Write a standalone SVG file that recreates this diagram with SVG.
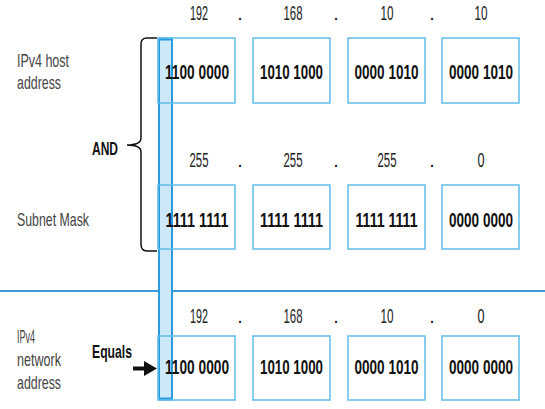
<svg xmlns="http://www.w3.org/2000/svg" width="545" height="409" viewBox="0 0 545 409">
<style>
.box{fill:none;stroke:#62bde9;stroke-width:1.5}
.bin{font-family:"Liberation Sans",Arial,sans-serif;font-weight:bold;font-size:20px;fill:#111;text-anchor:middle}
.num{font-family:"Liberation Sans",Arial,sans-serif;font-size:20px;fill:#222;text-anchor:middle}
.lbl{font-family:"Liberation Sans",Arial,sans-serif;font-size:19px;fill:#444}
.op{font-family:"Liberation Sans",Arial,sans-serif;font-weight:bold;font-size:19px;fill:#111}
</style>
<rect width="545" height="409" fill="#fff"/>
<g id="highlight">
<rect x="159" y="39" width="13" height="360" fill="#cde8f8" stroke="#2a9be0" stroke-width="2"/>
<line x1="158" y1="39" x2="173" y2="39" stroke="#2a9be0" stroke-width="3"/>
<line x1="158" y1="399" x2="173" y2="399" stroke="#2a9be0" stroke-width="3"/>
</g>
<g id="labels">
<text class="lbl" x="17" y="67" textLength="52" lengthAdjust="spacingAndGlyphs">IPv4 host</text>
<text class="lbl" x="17" y="89" textLength="44" lengthAdjust="spacingAndGlyphs">address</text>
<text class="lbl" x="17" y="226" textLength="72" lengthAdjust="spacingAndGlyphs">Subnet Mask</text>
<text class="lbl" x="17" y="343" textLength="18" lengthAdjust="spacingAndGlyphs">IPv4</text>
<text class="lbl" x="17" y="366" textLength="44" lengthAdjust="spacingAndGlyphs">network</text>
<text class="lbl" x="17" y="389" textLength="44" lengthAdjust="spacingAndGlyphs">address</text>
<text class="op" x="92" y="155" textLength="26" lengthAdjust="spacingAndGlyphs">AND</text>
<text class="op" x="92" y="358" textLength="40" lengthAdjust="spacingAndGlyphs">Equals</text>
</g>
<g id="divider">
<line x1="0" y1="291" x2="159" y2="291" stroke="#3d9bd8" stroke-width="2"/>
<line x1="172" y1="291" x2="545" y2="291" stroke="#3d9bd8" stroke-width="2"/>
</g>
<g id="row1">
<text class="num" x="199" y="20" textLength="18" lengthAdjust="spacingAndGlyphs">192</text>
<text class="num" x="240" y="20">.</text>
<text class="num" x="293" y="20" textLength="19" lengthAdjust="spacingAndGlyphs">168</text>
<text class="num" x="336" y="20">.</text>
<text class="num" x="387" y="20" textLength="13" lengthAdjust="spacingAndGlyphs">10</text>
<text class="num" x="432" y="20">.</text>
<text class="num" x="481" y="20" textLength="13" lengthAdjust="spacingAndGlyphs">10</text>
<g id="h1"><rect class="box" x="158" y="38" width="77" height="65"/><text class="bin" x="197" y="79" textLength="64" lengthAdjust="spacingAndGlyphs">1100 0000</text></g>
<g id="h2"><rect class="box" x="253" y="38" width="77" height="65"/><text class="bin" x="291.5" y="79" textLength="63" lengthAdjust="spacingAndGlyphs">1010 1000</text></g>
<g id="h3"><rect class="box" x="348" y="38" width="77" height="65"/><text class="bin" x="386.5" y="79" textLength="64" lengthAdjust="spacingAndGlyphs">0000 1010</text></g>
<g id="h4"><rect class="box" x="442" y="38" width="77" height="65"/><text class="bin" x="481" y="79" textLength="64" lengthAdjust="spacingAndGlyphs">0000 1010</text></g>
</g>
<g id="row2">
<text class="num" x="199" y="167" textLength="19" lengthAdjust="spacingAndGlyphs">255</text>
<text class="num" x="240" y="167">.</text>
<text class="num" x="293" y="167" textLength="19" lengthAdjust="spacingAndGlyphs">255</text>
<text class="num" x="336" y="167">.</text>
<text class="num" x="387" y="167" textLength="19" lengthAdjust="spacingAndGlyphs">255</text>
<text class="num" x="432" y="167">.</text>
<text class="num" x="481" y="167" textLength="7" lengthAdjust="spacingAndGlyphs">0</text>
<g id="m1"><rect class="box" x="158" y="185" width="77" height="64"/><text class="bin" x="197" y="227" textLength="63" lengthAdjust="spacingAndGlyphs">1111 1111</text></g>
<g id="m2"><rect class="box" x="253" y="185" width="77" height="64"/><text class="bin" x="291.5" y="227" textLength="63" lengthAdjust="spacingAndGlyphs">1111 1111</text></g>
<g id="m3"><rect class="box" x="348" y="185" width="77" height="64"/><text class="bin" x="386.5" y="227" textLength="62" lengthAdjust="spacingAndGlyphs">1111 1111</text></g>
<g id="m4"><rect class="box" x="442" y="185" width="77" height="64"/><text class="bin" x="481" y="227" textLength="64" lengthAdjust="spacingAndGlyphs">0000 0000</text></g>
</g>
<g id="row3">
<text class="num" x="199" y="323" textLength="18" lengthAdjust="spacingAndGlyphs">192</text>
<text class="num" x="240" y="323">.</text>
<text class="num" x="293" y="323" textLength="19" lengthAdjust="spacingAndGlyphs">168</text>
<text class="num" x="336" y="323">.</text>
<text class="num" x="387" y="323" textLength="13" lengthAdjust="spacingAndGlyphs">10</text>
<text class="num" x="432" y="323">.</text>
<text class="num" x="481" y="323" textLength="7" lengthAdjust="spacingAndGlyphs">0</text>
<g id="n1"><rect class="box" x="158" y="336" width="77" height="64"/><text class="bin" x="197" y="374" textLength="64" lengthAdjust="spacingAndGlyphs">1100 0000</text></g>
<g id="n2"><rect class="box" x="253" y="336" width="77" height="64"/><text class="bin" x="291.5" y="374" textLength="63" lengthAdjust="spacingAndGlyphs">1010 1000</text></g>
<g id="n3"><rect class="box" x="348" y="336" width="77" height="64"/><text class="bin" x="386.5" y="374" textLength="64" lengthAdjust="spacingAndGlyphs">0000 1010</text></g>
<g id="n4"><rect class="box" x="442" y="336" width="77" height="64"/><text class="bin" x="481" y="374" textLength="64" lengthAdjust="spacingAndGlyphs">0000 0000</text></g>
</g>
<g id="connectors">
<path d="M157,38 H147 Q141,38 141,44 V138 Q141,145 127,145 Q141,145 141,152 V244 Q141,251 147,251 H157" fill="none" stroke="#111" stroke-width="1.5"/>
<line x1="133" y1="368.5" x2="147" y2="368.5" stroke="#111" stroke-width="4"/>
<polygon points="144,361 157,368.5 144,376" fill="#111"/>
</g>
</svg>
